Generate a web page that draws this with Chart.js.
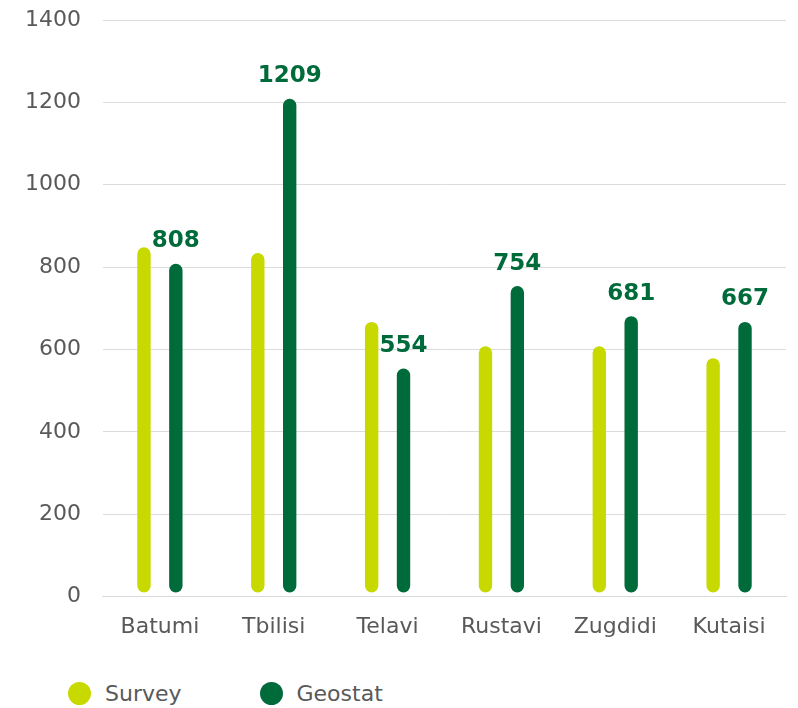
<html><head>
<meta charset="UTF-8">
<title>Survey vs Geostat</title>
<script src="https://cdn.jsdelivr.net/npm/chart.js"></script>
<style>
body {
  margin: 0;
  background: #ffffff;
  font-family: Verdana, "DejaVu Sans", sans-serif;
}
.wrap {
  width: 798px;
  height: 708px;
  position: relative;
}
.chart-box {
  width: 798px;
  height: 660px;
}
.legend {
  position: absolute;
  left: 68px;
  top: 681px;
  display: flex;
  color: #595959;
  font-size: 22px;
}
.legend-item {
  display: flex;
  align-items: center;
  margin-right: 78px;
}
.dot {
  width: 23px;
  height: 23px;
  border-radius: 50%;
  margin-right: 14px;
}
</style>
</head>
<body>

<div class="wrap">
  <div class="chart-box"><canvas id="chart"></canvas></div>
  <div class="legend" id="legend"></div>
</div>

<script>
const cities = ["Batumi", "Tbilisi", "Telavi", "Rustavi", "Zugdidi", "Kutaisi"];
const survey = [848, 834, 667, 608, 608, 579];
const geostat = [808, 1209, 554, 754, 681, 667];
const yTicks = [0, 200, 400, 600, 800, 1000, 1200, 1400];

const SURVEY_COLOR = '#c8d900';
const GEOSTAT_COLOR = '#006b3a';
const TEXT_COLOR = '#595959';
const FONT = 'Verdana, "DejaVu Sans", sans-serif';

// value labels above the Geostat bars
const barLabels = {
  id: 'barLabels',
  afterDatasetsDraw(chart) {
    const ctx = chart.ctx;
    const meta = chart.getDatasetMeta(1);
    ctx.save();
    ctx.font = 'bold 23px ' + FONT;
    ctx.fillStyle = GEOSTAT_COLOR;
    ctx.textAlign = 'center';
    ctx.textBaseline = 'bottom';
    meta.data.forEach((bar, i) => {
      ctx.fillText(geostat[i], bar.x, bar.y - 11);
    });
    ctx.restore();
  }
};

const ctx = document.getElementById('chart').getContext('2d');
new Chart(ctx, {
  type: 'bar',
  data: {
    labels: cities,
    datasets: [
      {
        label: 'Survey',
        data: survey,
        backgroundColor: SURVEY_COLOR,
        base: 10,
        borderRadius: 7,
        borderSkipped: false
      },
      {
        label: 'Geostat',
        data: geostat,
        backgroundColor: GEOSTAT_COLOR,
        base: 10,
        borderRadius: 7,
        borderSkipped: false
      }
    ]
  },
  options: {
    responsive: true,
    maintainAspectRatio: false,
    animation: false,
    datasets: {
      bar: { categoryPercentage: 0.56, barPercentage: 0.42 }
    },
    layout: { padding: { left: 3, right: 12, top: 20, bottom: 3 } },
    plugins: {
      legend: { display: false },
      tooltip: { enabled: false }
    },
    scales: {
      x: {
        grid: { display: false, drawTicks: false },
        border: { color: '#d9d9d9', width: 1 },
        ticks: {
          color: TEXT_COLOR,
          font: { family: FONT, size: 22 },
          padding: 17
        }
      },
      y: {
        min: 0,
        max: 1400,
        afterBuildTicks(axis) {
          axis.ticks = yTicks.map(v => ({ value: v }));
        },
        afterFit(axis) {
          axis.paddingTop = 0;
          axis.paddingBottom = 0;
        },
        grid: { color: '#dcdcdc', drawTicks: false },
        border: { display: false },
        ticks: {
          color: TEXT_COLOR,
          font: { family: FONT, size: 22 },
          padding: 22,
          callback: v => String(v)
        }
      }
    }
  },
  plugins: [barLabels]
});

const legend = document.getElementById('legend');
[['Survey', SURVEY_COLOR], ['Geostat', GEOSTAT_COLOR]].forEach(([name, color]) => {
  const item = document.createElement('div');
  item.className = 'legend-item';
  item.innerHTML = `<span class="dot" style="background:${color}"></span>${name}`;
  legend.appendChild(item);
});
</script>

</body></html>
